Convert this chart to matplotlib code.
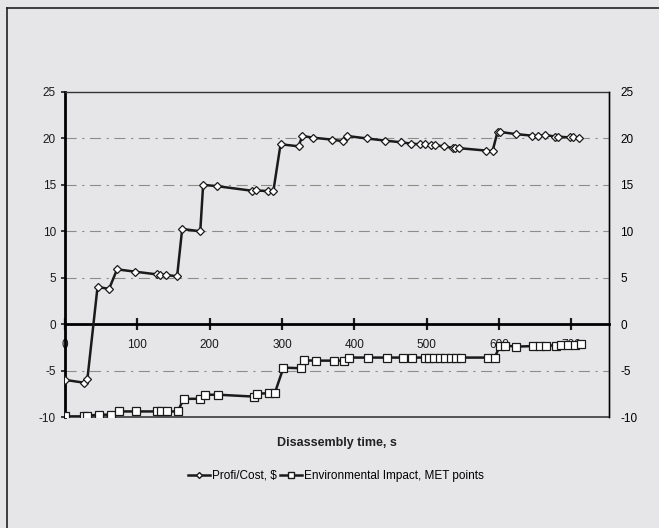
import matplotlib.pyplot as plt
from matplotlib.lines import Line2D

# Profit/Cost series (diamonds)
profit_t = [0, 26, 31, 45, 61, 72, 97, 127, 132, 140, 155, 162, 187, 191, 210,
            259, 264, 280, 288, 298, 323, 328, 343, 369, 385, 390, 417, 443,
            465, 478, 491, 497, 506, 512, 524, 536, 539, 545, 582, 591, 598,
            601, 623, 645, 654, 663, 678, 681, 698, 702, 711]
profit = [-6.0, -6.3, -5.9, 4.0, 3.8, 5.9, 5.65, 5.36, 5.3, 5.3, 5.15, 10.25,
          10.0, 15.0, 14.86, 14.36, 14.4, 14.33, 14.3, 19.37, 19.15, 20.26,
          20.08, 19.87, 19.69, 20.26, 20.0, 19.76, 19.58, 19.44, 19.37, 19.35,
          19.3, 19.25, 19.15, 18.97, 18.97, 18.95, 18.69, 18.62, 20.73, 20.7,
          20.47, 20.3, 20.25, 20.37, 20.2, 20.2, 20.1, 20.1, 20.08]

# Environmental impact series (squares)
env_t = [0, 26, 30, 47, 63, 75, 98, 127, 133, 141, 156, 164, 187, 194, 212,
         261, 265, 282, 290, 302, 326, 330, 347, 372, 386, 392, 419, 445, 467,
         480, 497, 503, 510, 518, 525, 533, 540, 547, 585, 594, 601, 608, 624,
         647, 656, 665, 679, 686, 696, 705, 714]
env = [-9.93, -9.93, -9.87, -9.75, -9.75, -9.4, -9.4, -9.4, -9.4, -9.4, -9.4,
       -8.04, -8.04, -7.6, -7.6, -7.8, -7.5, -7.43, -7.43, -4.68, -4.75, -3.9,
       -3.93, -3.93, -3.93, -3.6, -3.6, -3.6, -3.6, -3.6, -3.6, -3.6, -3.6,
       -3.6, -3.6, -3.6, -3.6, -3.6, -3.6, -3.6, -2.36, -2.3, -2.42, -2.36,
       -2.3, -2.3, -2.3, -2.25, -2.2, -2.2, -2.18]

x_ticks = [0, 100, 200, 300, 400, 500, 600, 700]
y_ticks = [-10, -5, 0, 5, 10, 15, 20, 25]

bg = '#e6e6e8'
plt.rcParams['font.family'] = ['Liberation Sans', 'DejaVu Sans']
plt.rcParams['axes.unicode_minus'] = False

fig = plt.figure(figsize=(6.59, 5.28), dpi=100)
fig.patch.set_facecolor(bg)
ax = fig.add_axes([0.0986, 0.2102, 0.8255, 0.6156])
ax.set_facecolor(bg)

ax.set_xlim(0, 752)
ax.set_ylim(-10, 25)

for y in [-5, 5, 10, 15, 20]:
    ax.axhline(y, color='#8c8c8c', lw=0.8, ls='-.', dashes=(10, 5, 2, 5), zorder=1)
ax.axhline(-10, color='#3a3a3a', lw=1.2, zorder=1, clip_on=False)

ax.plot(profit_t, profit, color='#1a1a1a', lw=1.8, marker='D', ms=4,
        mfc='white', mec='#1a1a1a', mew=0.9, zorder=3)
ax.plot(env_t, env, color='#1a1a1a', lw=1.8, marker='s', ms=5.8,
        mfc='white', mec='#1a1a1a', mew=0.9, zorder=3)

ax.spines['bottom'].set_position(('data', 0))
ax.spines['bottom'].set_linewidth(2)
ax.spines['left'].set_linewidth(2)
ax.spines['top'].set_linewidth(1)
ax.spines['top'].set_color('#333333')
ax.spines['right'].set_linewidth(1)
ax.spines['right'].set_color('#333333')
for s in ax.spines.values():
    s.set_zorder(2)

ax.set_xticks(x_ticks)
ax.set_yticks(y_ticks)
ax.tick_params(axis='x', direction='inout', length=9, width=1.6, labelsize=8.5,
               pad=6, colors='#1a1a1a')
ax.tick_params(axis='y', direction='out', length=3, width=1.2, labelsize=8.5,
               colors='#1a1a1a')

ax2 = ax.twinx()
ax2.set_ylim(-10, 25)
ax2.set_yticks(y_ticks)
ax2.tick_params(axis='y', direction='out', length=0, labelsize=8.5, pad=8)
for s in ['top', 'bottom', 'left']:
    ax2.spines[s].set_visible(False)
ax2.spines['right'].set_linewidth(1)

fig.text(0.511, 0.161, 'Disassembly time, s', ha='center', va='center',
         fontsize=9, fontweight='bold', color='#222222')

handles = [
    Line2D([], [], color='#1a1a1a', lw=1.8, marker='D', ms=3, mfc='white',
           mec='#1a1a1a'),
    Line2D([], [], color='#1a1a1a', lw=1.8, marker='s', ms=4.5, mfc='white',
           mec='#1a1a1a'),
]
fig.legend(handles, ['Profi/Cost, $', 'Environmental Impact, MET points'],
           loc='center', bbox_to_anchor=(0.51, 0.099), ncol=2, frameon=False,
           fontsize=8.5, handlelength=1.8, handletextpad=0.2, columnspacing=0.3)

# outer frame of the picture (left and top edges visible)
fig.add_artist(Line2D([0.0106, 0.0106], [0, 0.985], transform=fig.transFigure,
                      color='#222222', lw=1.2))
fig.add_artist(Line2D([0.0106, 1.0], [0.985, 0.985], transform=fig.transFigure,
                      color='#222222', lw=1.2))

fig.savefig('out.png', dpi=100, facecolor=bg)
